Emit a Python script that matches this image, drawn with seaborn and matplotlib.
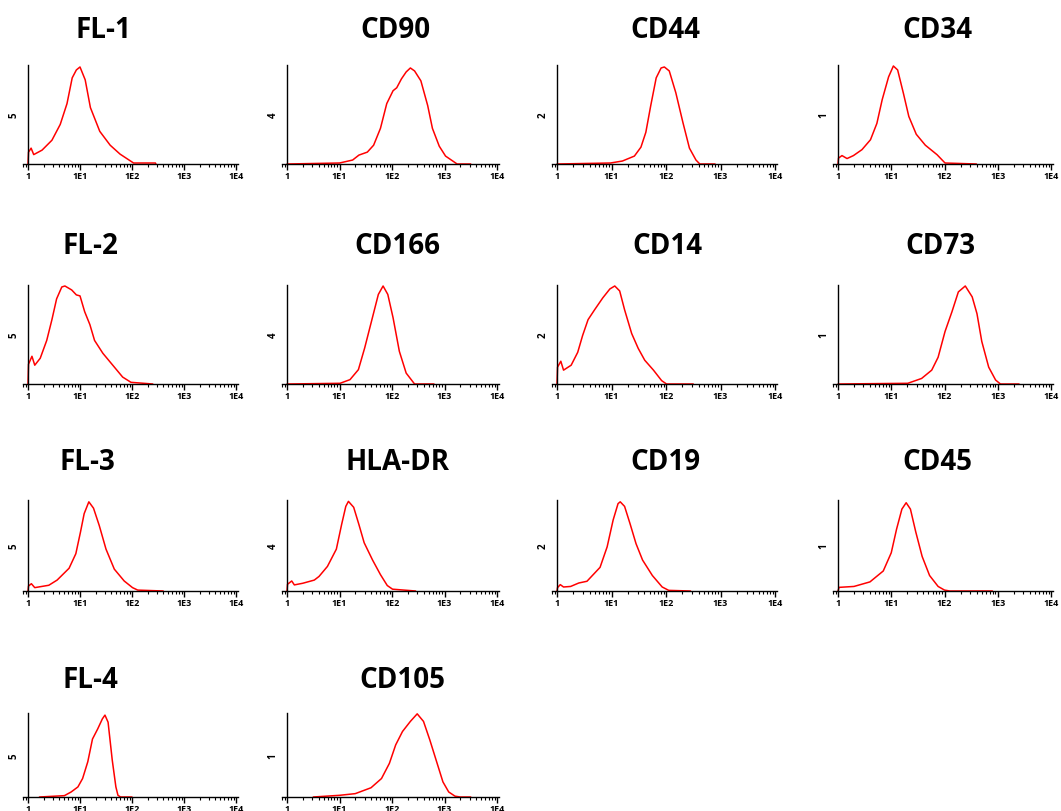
import numpy as np
import pandas as pd
import seaborn as sns
import matplotlib.pyplot as plt
from matplotlib.ticker import LogLocator, FixedLocator, FixedFormatter, NullFormatter

# curve shapes: x in decades (log10 of intensity), y as share of axis height
fl1_x = [0, 0.01, 0.06, 0.11, 0.27, 0.46, 0.62, 0.75, 0.85, 0.93, 1.0, 1.1, 1.2, 1.38, 1.58, 1.77, 2.03, 2.45, 2.46]
fl1_y = [0, 0.12, 0.16, 0.095, 0.14, 0.24, 0.40, 0.61, 0.87, 0.95, 0.98, 0.85, 0.57, 0.33, 0.19, 0.10, 0.01, 0.01, 0]

cd90_x = [0, 1.0, 1.25, 1.37, 1.53, 1.65, 1.78, 1.90, 2.02, 2.09, 2.18, 2.27, 2.35, 2.43, 2.55, 2.68, 2.77, 2.90, 3.02, 3.24, 3.5]
cd90_y = [0, 0.01, 0.04, 0.09, 0.12, 0.19, 0.36, 0.61, 0.74, 0.77, 0.86, 0.93, 0.97, 0.94, 0.84, 0.59, 0.36, 0.18, 0.08, 0, 0]

cd44_x = [0, 0.98, 1.2, 1.42, 1.54, 1.63, 1.72, 1.82, 1.91, 1.97, 2.06, 2.18, 2.31, 2.43, 2.55, 2.62, 2.9]
cd44_y = [0, 0.01, 0.03, 0.08, 0.17, 0.32, 0.59, 0.87, 0.97, 0.98, 0.94, 0.72, 0.42, 0.16, 0.04, 0, 0]

cd34_x = [0, 0.01, 0.075, 0.17, 0.29, 0.45, 0.61, 0.73, 0.83, 0.95, 1.04, 1.12, 1.23, 1.33, 1.47, 1.64, 1.86, 2.01, 2.6]
cd34_y = [0, 0.06, 0.085, 0.055, 0.085, 0.145, 0.245, 0.41, 0.65, 0.88, 0.99, 0.95, 0.71, 0.48, 0.30, 0.19, 0.094, 0.01, 0]

fl2_x = [0, 0.01, 0.076, 0.13, 0.235, 0.36, 0.46, 0.55, 0.65, 0.71, 0.84, 0.93, 1.0, 1.09, 1.19, 1.28, 1.44, 1.63, 1.82, 1.98, 2.4]
fl2_y = [0, 0.20, 0.28, 0.19, 0.26, 0.44, 0.65, 0.86, 0.98, 0.99, 0.95, 0.90, 0.89, 0.73, 0.60, 0.44, 0.31, 0.19, 0.07, 0.017, 0]

cd166_x = [0, 1.01, 1.2, 1.36, 1.48, 1.61, 1.74, 1.83, 1.92, 2.02, 2.14, 2.27, 2.43, 2.8]
cd166_y = [0, 0.007, 0.044, 0.145, 0.365, 0.635, 0.905, 0.99, 0.905, 0.67, 0.33, 0.11, 0, 0]

cd14_x = [0, 0.01, 0.07, 0.12, 0.26, 0.38, 0.47, 0.57, 0.69, 0.84, 0.97, 1.06, 1.15, 1.24, 1.37, 1.49, 1.61, 1.77, 1.92, 2.01, 2.5]
cd14_y = [0, 0.17, 0.23, 0.14, 0.19, 0.32, 0.49, 0.65, 0.75, 0.87, 0.96, 0.99, 0.94, 0.75, 0.51, 0.36, 0.24, 0.14, 0.034, 0, 0]

cd73_x = [0, 1.31, 1.57, 1.76, 1.88, 2.01, 2.14, 2.26, 2.39, 2.52, 2.61, 2.70, 2.83, 2.96, 3.05, 3.4]
cd73_y = [0, 0.007, 0.056, 0.14, 0.27, 0.53, 0.73, 0.93, 0.99, 0.88, 0.71, 0.43, 0.17, 0.04, 0, 0]

fl3_x = [0, 0.01, 0.065, 0.13, 0.40, 0.56, 0.79, 0.92, 1.01, 1.08, 1.17, 1.26, 1.37, 1.50, 1.66, 1.85, 2.01, 2.11, 2.6]
fl3_y = [0, 0.055, 0.08, 0.037, 0.063, 0.12, 0.25, 0.41, 0.65, 0.85, 0.98, 0.91, 0.72, 0.46, 0.24, 0.11, 0.037, 0.01, 0]

hla_x = [0, 0.01, 0.09, 0.14, 0.30, 0.52, 0.61, 0.77, 0.94, 1.04, 1.12, 1.17, 1.27, 1.37, 1.47, 1.63, 1.78, 1.91, 2.01, 2.45]
hla_y = [0, 0.074, 0.11, 0.067, 0.085, 0.12, 0.16, 0.27, 0.46, 0.73, 0.93, 0.985, 0.92, 0.73, 0.53, 0.34, 0.18, 0.06, 0.02, 0]

cd19_x = [0, 0.01, 0.06, 0.12, 0.25, 0.40, 0.55, 0.79, 0.92, 1.03, 1.12, 1.16, 1.24, 1.34, 1.45, 1.57, 1.75, 1.93, 2.05, 2.45]
cd19_y = [0, 0.037, 0.07, 0.044, 0.05, 0.088, 0.107, 0.26, 0.485, 0.78, 0.96, 0.98, 0.93, 0.74, 0.52, 0.34, 0.17, 0.044, 0.007, 0]

cd45_x = [0, 0.02, 0.3, 0.6, 0.85, 1.0, 1.1, 1.2, 1.28, 1.36, 1.46, 1.58, 1.72, 1.88, 2.0, 2.1, 2.9]
cd45_y = [0, 0.04, 0.05, 0.10, 0.22, 0.42, 0.68, 0.90, 0.97, 0.90, 0.65, 0.38, 0.17, 0.05, 0.01, 0, 0]

fl4_x = [0.22, 0.70, 0.83, 0.96, 1.05, 1.15, 1.24, 1.34, 1.43, 1.48, 1.54, 1.62, 1.69, 1.73, 1.78, 2.0]
fl4_y = [0, 0.016, 0.06, 0.12, 0.22, 0.42, 0.69, 0.81, 0.93, 0.975, 0.89, 0.44, 0.12, 0.02, 0, 0]

cd105_x = [0.5, 1.0, 1.3, 1.6, 1.8, 1.95, 2.07, 2.2, 2.35, 2.48, 2.6, 2.72, 2.85, 2.97, 3.08, 3.2, 3.3, 3.5]
cd105_y = [0, 0.02, 0.04, 0.11, 0.22, 0.40, 0.62, 0.78, 0.90, 0.99, 0.90, 0.68, 0.42, 0.18, 0.06, 0.01, 0, 0]

titles = ["FL-1", "CD90", "CD44", "CD34",
          "FL-2", "CD166", "CD14", "CD73",
          "FL-3", "HLA-DR", "CD19", "CD45",
          "FL-4", "CD105"]
ylabels = ["5", "4", "2", "1",
           "5", "4", "2", "1",
           "5", "4", "2", "1",
           "5", "1"]
curves = [(fl1_x, fl1_y), (cd90_x, cd90_y), (cd44_x, cd44_y), (cd34_x, cd34_y),
          (fl2_x, fl2_y), (cd166_x, cd166_y), (cd14_x, cd14_y), (cd73_x, cd73_y),
          (fl3_x, fl3_y), (hla_x, hla_y), (cd19_x, cd19_y), (cd45_x, cd45_y),
          (fl4_x, fl4_y), (cd105_x, cd105_y)]
tick_labels = ["1", "1E1", "1E2", "1E3", "1E4"]

sns.set_style("white")
plt.rcParams['font.family'] = ['Open Sans', 'DejaVu Sans']
plt.rcParams['text.color'] = 'black'
plt.rcParams['xtick.color'] = 'black'

W, H = 1061, 812
fig = plt.figure(figsize=(W / 100, H / 100), dpi=100)

# pixel layout: x of "1" and "1E4" per column, baseline and top per row
col_x = [(28, 236), (287, 497), (557, 775), (838, 1051)]
row_y = [(165, 66), (385, 286), (592, 501), (798, 714)]
title_x = [[103, 395, 665, 937], [90, 397, 667, 940], [87, 397, 665, 937], [90, 402]]
title_y = [31, 246, 463, 681]
pad_l, pad_r = 0.1, 0.03  # decades of baseline beyond the y axis / past 1E4

for i, (title, yl, (cx, cy)) in enumerate(zip(titles, ylabels, curves)):
    r, c = divmod(i, 4)
    x0, x4 = col_x[c]
    base, top = row_y[r]
    dec = (x4 - x0) / 4
    left = x0 - pad_l * dec
    right = x4 + pad_r * dec
    ax = fig.add_axes([left / W, 1 - base / H, (right - left) / W, (base - top) / H])
    df = pd.DataFrame({"intensity": np.power(10.0, cx), "count": cy})
    sns.lineplot(data=df, x="intensity", y="count", ax=ax, color="#ff0000",
                 linewidth=1.1, sort=False)
    ax.set_xscale("log")
    ax.set_xlim(10 ** -pad_l, 10 ** (4 + pad_r))
    ax.set_ylim(0, 1)
    ax.spines[["top", "right"]].set_visible(False)
    ax.spines["left"].set_position(("data", 1))
    for s in ("left", "bottom"):
        ax.spines[s].set_linewidth(1.0)
        ax.spines[s].set_color("black")
    ax.xaxis.set_major_locator(FixedLocator([1, 10, 100, 1000, 10000]))
    ax.xaxis.set_major_formatter(FixedFormatter(tick_labels))
    ax.xaxis.set_minor_locator(LogLocator(base=10, subs=np.arange(2, 10), numticks=20))
    ax.xaxis.set_minor_formatter(NullFormatter())
    ax.tick_params(axis="x", which="major", direction="out", length=4, width=1,
                   labelsize=6.5, pad=1, bottom=True)
    ax.tick_params(axis="x", which="minor", direction="out", length=2, width=0.8, bottom=True)
    for lab in ax.get_xticklabels():
        lab.set_fontweight("bold")
    ax.set_yticks([])
    ax.set_xlabel("")
    ax.set_ylabel("")
    fig.text((x0 - 14) / W, 1 - (base + top) / 2 / H, yl, rotation=90, fontsize=7,
             fontweight="bold", ha="center", va="center")
    fig.text(title_x[r][c] / W, 1 - title_y[r] / H, title, fontsize=20,
             fontweight="bold", ha="center", va="center")

fig.savefig("out.png", dpi=100)
